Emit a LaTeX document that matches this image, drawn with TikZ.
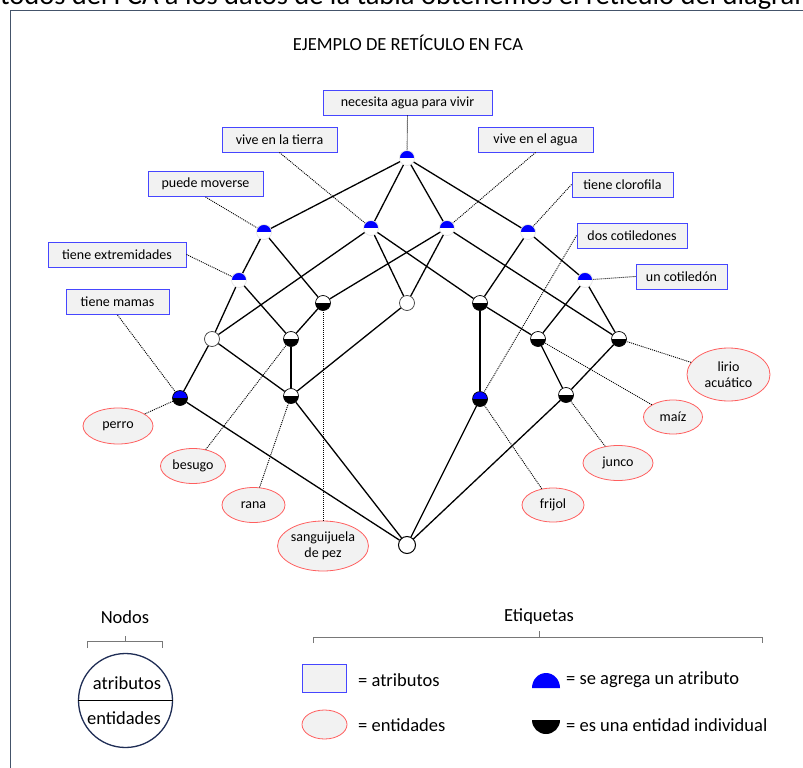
\documentclass[tikz,border=0pt]{standalone}
\usepackage{fontspec}
\setmainfont{Carlito}
\usetikzlibrary{shapes.geometric}
\definecolor{attrblue}{RGB}{70,70,255}
\definecolor{entred}{RGB}{255,95,95}
\definecolor{paper}{RGB}{242,242,242}
\definecolor{framecol}{RGB}{68,84,106}
\definecolor{nodeblue}{RGB}{0,0,255}
\definecolor{navy}{RGB}{31,45,85}
\definecolor{bracketgray}{RGB}{120,120,120}

\begin{document}
\begin{tikzpicture}[x=1pt,y=-1pt,
  attrbox/.style={draw=attrblue, line width=1pt, fill=paper, inner sep=0pt,
    minimum height=25pt, font=\fontsize{14}{16}\selectfont},
  entbox/.style={ellipse, draw=entred, line width=0.8pt, fill=paper, inner sep=0pt,
    font=\fontsize{14}{16}\selectfont, align=center},
  halves/.style 2 args={path picture={
    \fill[#1] (path picture bounding box.west) rectangle (path picture bounding box.north east);
    \fill[#2] (path picture bounding box.west) rectangle (path picture bounding box.south east);}},
  latbase/.style={circle, inner sep=0pt, minimum size=15pt, line width=0.7pt},
  anode/.style={latbase, halves={nodeblue}{white}, draw=black!10},
  enode/.style={latbase, halves={white}{black}, draw=black},
  bnode/.style={latbase, halves={nodeblue}{black}, draw=black},
  onode/.style={latbase, fill=white, draw=black!75},
  edge/.style={line width=1.3pt, black},
  link/.style={line width=0.9pt, black, dash pattern=on 1pt off 1pt},
  legtext/.style={anchor=west, inner sep=0pt, font=\fontsize{18.5}{20}\selectfont},
  bracket/.style={draw=bracketgray, line width=0.8pt}
]
\useasboundingbox (0,0) rectangle (803,768);
\clip (0,0) rectangle (803,768);

% running text of the page above the figure
\node[anchor=base west, inner sep=0pt, font=\fontsize{28.5}{30}\selectfont] (runtext) at (-37,5)
  {métodos del FCA a los datos de la tabla obtenemos el retículo del diagrama};

% figure frame
\draw[framecol, line width=1pt] (10.5,768) -- (10.5,10.5) -- (803,10.5);

\node[font=\fontsize{18.5}{20}\selectfont] (title) at (408,43) {EJEMPLO DE RETÍCULO EN FCA};

% lattice nodes
\node[anode] (top)    at (407,158) {};
\node[anode] (mov)    at (264,232) {};
\node[anode] (tierra) at (371,228) {};
\node[anode] (agua)   at (447,228) {};
\node[anode] (cloro)  at (528,232) {};
\node[anode] (extr)   at (239,280) {};
\node[anode] (uncot)  at (585,280) {};
\node[enode] (sang)   at (323,303) {};
\node[onode] (bc)     at (407,303) {};
\node[enode] (cd)     at (480,303) {};
\node[onode] (cg)     at (212,339) {};
\node[enode] (besugo) at (291,339) {};
\node[enode] (maiz)   at (538,339) {};
\node[enode] (lirio)  at (619,339) {};
\node[bnode] (perro)  at (180,398) {};
\node[enode] (rana)   at (291,396) {};
\node[bnode] (frijol) at (480,399) {};
\node[enode] (junco)  at (566,395) {};
\node[latbase, minimum size=17pt, fill=white, draw=black, line width=1pt] (bot) at (407,545) {};

% lattice edges
\draw[edge] (top) -- (mov);
\draw[edge] (top) -- (tierra);
\draw[edge] (top) -- (agua);
\draw[edge] (top) -- (cloro);
\draw[edge] (mov) -- (extr);
\draw[edge] (mov) -- (sang);
\draw[edge] (tierra) -- (cg);
\draw[edge] (tierra) -- (bc);
\draw[edge] (tierra) -- (cd);
\draw[edge] (agua) -- (sang);
\draw[edge] (agua) -- (bc);
\draw[edge] (agua) -- (lirio);
\draw[edge] (cloro) -- (cd);
\draw[edge] (cloro) -- (uncot);
\draw[edge] (extr) -- (cg);
\draw[edge] (extr) -- (besugo);
\draw[edge] (sang) -- (besugo);
\draw[edge] (cg) -- (perro);
\draw[edge] (cg) -- (rana);
\draw[edge] (besugo) -- (rana);
\draw[edge] (bc) -- (rana);
\draw[edge] (cd) -- (maiz);
\draw[edge] (cd) -- (frijol);
\draw[edge] (uncot) -- (maiz);
\draw[edge] (uncot) -- (lirio);
\draw[edge] (maiz) -- (junco);
\draw[edge] (lirio) -- (junco);
\draw[edge] (perro) -- (bot);
\draw[edge] (rana) -- (bot);
\draw[edge] (frijol) -- (bot);
\draw[edge] (junco) -- (bot);

% attribute labels
\node[attrbox, minimum width=169pt] (l-necesita) at (407.5,102.5) {necesita agua para vivir};
\node[attrbox, minimum width=115pt] (l-tierra)   at (279.5,139.5) {vive en la tierra};
\node[attrbox, minimum width=115pt] (l-agua)     at (535.5,139.5) {vive en el agua};
\node[attrbox, minimum width=115pt] (l-mov)      at (205.5,184)   {puede moverse};
\node[attrbox, minimum width=101pt] (l-cloro)    at (622.5,184.5) {tiene clorofila};
\node[attrbox, minimum width=110pt] (l-dos)      at (632,235.5)   {dos cotiledones};
\node[attrbox, minimum width=138pt] (l-extr)     at (117,254.5)   {tiene extremidades};
\node[attrbox, minimum width=91pt]  (l-uncot)    at (681.5,276.5) {un cotiledón};
\node[attrbox, minimum width=103pt] (l-mamas)    at (117.5,302)   {tiene mamas};

% entity labels
\node[entbox, minimum width=70pt, minimum height=36pt] (e-perro)  at (118,426) {perro};
\node[entbox, minimum width=65pt, minimum height=35pt] (e-besugo) at (193,466) {besugo};
\node[entbox, minimum width=63pt, minimum height=35pt] (e-rana)   at (253.5,505) {rana};
\node[entbox, minimum width=90pt, minimum height=50pt] (e-sang)   at (323,546) {sanguijuela\\de pez};
\node[entbox, minimum width=62pt, minimum height=34pt] (e-frijol) at (553,505) {frijol};
\node[entbox, minimum width=70pt, minimum height=35pt] (e-junco)  at (618,463) {junco};
\node[entbox, minimum width=59pt, minimum height=34pt] (e-maiz)   at (673,417) {maíz};
\node[entbox, minimum width=83pt, minimum height=53pt] (e-lirio)  at (728.5,374.5) {lirio\\acuático};

% dotted links from labels to their concepts
\draw[link] (l-necesita.south) -- (top);
\draw[link] (l-tierra.south) -- (tierra);
\draw[link] (l-agua.south) -- (agua);
\draw[link] (l-mov.south) -- (mov);
\draw[link] (l-cloro.west) -- (cloro);
\draw[link] (l-dos.west) -- (frijol);
\draw[link] (l-extr.east) -- (extr);
\draw[link] (l-uncot.west) -- (uncot);
\draw[link] (l-mamas.south) -- (perro);
\draw[link] (e-perro) -- (perro);
\draw[link] (e-besugo) -- (besugo);
\draw[link] (e-rana) -- (rana);
\draw[link] (e-sang) -- (sang);
\draw[link] (e-frijol) -- (frijol);
\draw[link] (e-junco) -- (junco);
\draw[link] (e-maiz) -- (maiz);
\draw[link] (e-lirio) -- (lirio);

% legend: node layout
\node[font=\fontsize{18.5}{20}\selectfont] (nodos) at (125,617) {Nodos};
\draw[bracket] (87.5,648) -- (87.5,641) -- (162.5,641) -- (162.5,648);
\draw[bracket] (125,641) -- (125,636);
\node[circle, draw=navy, line width=1.3pt, minimum size=94pt, inner sep=0pt] (legcirc) at (125.5,700.5) {};
\draw[black, line width=1.6pt] (legcirc.west) -- (legcirc.east);
\node[font=\fontsize{18.5}{20}\selectfont] (leg-a) at (127,683) {atributos};
\node[font=\fontsize{18.5}{20}\selectfont] (leg-e) at (124,718) {entidades};

% legend: label kinds
\node[font=\fontsize{18.5}{20}\selectfont] (etiq) at (539,617) {Etiquetas};
\draw[bracket] (313.5,643) -- (313.5,637) -- (762,637) -- (762,643);
\draw[bracket] (539,637) -- (539,631);
\node[attrbox, minimum width=44pt, minimum height=28pt] (leg-box) at (324,678) {};
\node[legtext] (leg-box-t) at (358,680) {= atributos};
\node[entbox, minimum width=45pt, minimum height=29pt] (leg-ell) at (324.5,724.5) {};
\node[legtext] (leg-ell-t) at (358,725) {= entidades};
\fill[nodeblue] (532,688) arc[start angle=180, end angle=360, x radius=14, y radius=15] -- cycle;
\node[legtext] (leg-blue-t) at (566,680) {= se agrega un atributo};
\fill[black] (532,720) arc[start angle=180, end angle=0, x radius=14, y radius=14] -- cycle;
\node[legtext] (leg-black-t) at (566,725) {= es una entidad individual};
\end{tikzpicture}
\end{document}
